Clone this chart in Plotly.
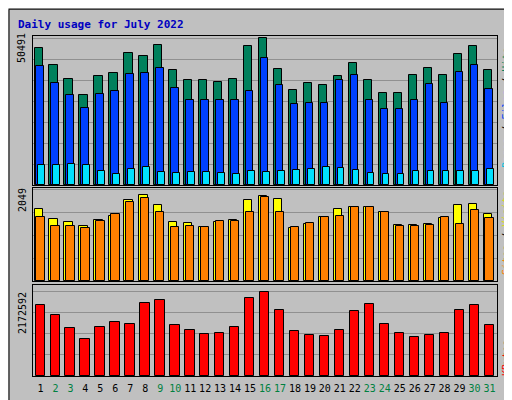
import plotly.graph_objects as go

days = list(range(1, 32))
weekend = [2, 3, 9, 10, 16, 17, 23, 24, 30, 31]

hits = [47060, 41220, 36410, 30920, 37440, 38470, 45340, 44310, 48090, 39500, 36070,
        36070, 35380, 36410, 47750, 50491, 39850, 32630, 35040, 34350, 37440, 41910,
        36070, 31600, 31600, 37790, 40190, 37790, 45000, 47750, 39500]
files = [40880, 35040, 30920, 26450, 31260, 32290, 38130, 38470, 40190, 33320, 29200,
         29200, 29200, 29200, 32290, 43620, 34350, 27820, 28170, 28170, 36070, 37790,
         29200, 26110, 26110, 29200, 34690, 28170, 38820, 41220, 32980]
pages = [6870, 6870, 7210, 6870, 4810, 3780, 5500, 6180, 4470, 4120, 4470, 4470, 4120,
         3780, 4810, 4470, 4810, 5150, 5500, 6180, 5840, 5150, 4120, 3780, 3780, 4810,
         4810, 4810, 4810, 4810, 5500]
visits = [1608, 1388, 1322, 1234, 1366, 1454, 1829, 1939, 1718, 1322, 1300, 1212, 1322,
          1366, 1829, 1917, 1850, 1190, 1278, 1432, 1608, 1652, 1674, 1542, 1256, 1256,
          1278, 1410, 1718, 1740, 1498]
sites = [1432, 1234, 1234, 1190, 1344, 1498, 1784, 1873, 1542, 1212, 1234, 1212, 1344,
         1344, 1542, 1895, 1542, 1212, 1300, 1432, 1454, 1652, 1674, 1542, 1234, 1234,
         1256, 1432, 1278, 1586, 1410]
kbytes = [1836300, 1577700, 1241500, 957000, 1267300, 1396700, 1344900, 1888100, 1965700,
          1319100, 1189700, 1086300, 1112200, 1267300, 2017400, 2172592, 1707000, 1163900,
          1060400, 1034600, 1189700, 1681200, 1862200, 1344900, 1112200, 1008700, 1060400,
          1112200, 1707000, 1836300, 1319100]

fig = go.Figure()
line = dict(color="black", width=1)


def bar(y, color, axis, off, w):
    fig.add_trace(go.Bar(x=days, y=y, marker=dict(color=color, line=line),
                         offset=off, width=w, xaxis="x" + axis, yaxis="y" + axis))


bar(hits, "#00805C", "", -0.4, 0.55)
bar(files, "#0040FF", "", -0.27, 0.5)
bar(pages, "#00E0FF", "", -0.14, 0.45)
bar(visits, "#FFFF00", "2", -0.4, 0.55)
bar(sites, "#FF8000", "2", -0.27, 0.55)
bar(kbytes, "#FF0000", "3", -0.33, 0.62)

xd = [25 / 512, 489 / 512]
ticktext = ['<span style="color:%s">%d</span>' % ("#008040" if d in weekend else "black", d)
            for d in days]
common_x = dict(range=[0.5, 31.5], domain=xd, showgrid=False, zeroline=False,
                showline=True, linecolor="black", mirror=True, fixedrange=True)
common_y = dict(showticklabels=False, zeroline=False, showline=True, linecolor="black",
                mirror=True, gridcolor="#909090", griddash="solid")

fig.update_layout(
    width=512, height=400, margin=dict(l=0, r=0, t=0, b=0),
    paper_bgcolor="#C0C0C0", plot_bgcolor="#C0C0C0",
    barmode="overlay", showlegend=False, bargap=0,
    font=dict(family="DejaVu Sans Mono", size=10, color="black"),
    xaxis=dict(common_x, showticklabels=False, anchor="y"),
    xaxis2=dict(common_x, showticklabels=False, anchor="y2"),
    xaxis3=dict(common_x, anchor="y3", tickmode="array", tickvals=days, ticktext=ticktext,
                ticks="outside", ticklen=3, tickcolor="#C0C0C0", tickfont=dict(size=10)),
    yaxis=dict(common_y, domain=[223 / 400, 372 / 400], range=[0, 50491 * 1.015],
               dtick=50491 / 7, anchor="x"),
    yaxis2=dict(common_y, domain=[127 / 400, 220 / 400], range=[0, 2049 * 1.02],
                dtick=2049 / 4, anchor="x2"),
    yaxis3=dict(common_y, domain=[32 / 400, 123 / 400], range=[0, 2172592 * 1.08],
                dtick=2172592 / 4, anchor="x3"),
)

ann = [
    dict(x=8 / 512, y=392 / 400, text="<b>Daily usage for July 2022</b>", xanchor="left",
         yanchor="top", font=dict(color="#0000C0", size=11), textangle=0),
    dict(x=14 / 512, y=360 / 400, text="50491", textangle=-90),
    dict(x=14 / 512, y=208 / 400, text="2049", textangle=-90),
    dict(x=14 / 512, y=95 / 400, text="2172592", textangle=-90),
    dict(x=498 / 512, y=300 / 400,
         text='<span style="color:#00C0E0">Pages</span> / <span style="color:#0040FF">Files</span>'
              ' / <span style="color:#00805C">Hits</span>', textangle=-90),
    dict(x=498 / 512, y=175 / 400,
         text='<span style="color:#FF8000">Sites</span> / <span style="color:#E0E000">Visits</span>',
         textangle=-90),
    dict(x=498 / 512, y=50 / 400, text='<span style="color:#FF0000">KBytes</span>', textangle=-90),
]
for a in ann:
    a.setdefault("xanchor", "center")
    a.setdefault("yanchor", "middle")
    a.update(xref="paper", yref="paper", showarrow=False)
fig.update_layout(annotations=ann)

fig.add_shape(type="rect", xref="paper", yref="paper", x0=0.002, y0=0.003, x1=0.998, y1=0.997,
              line=dict(color="black", width=1))

fig.write_html("out.html")
